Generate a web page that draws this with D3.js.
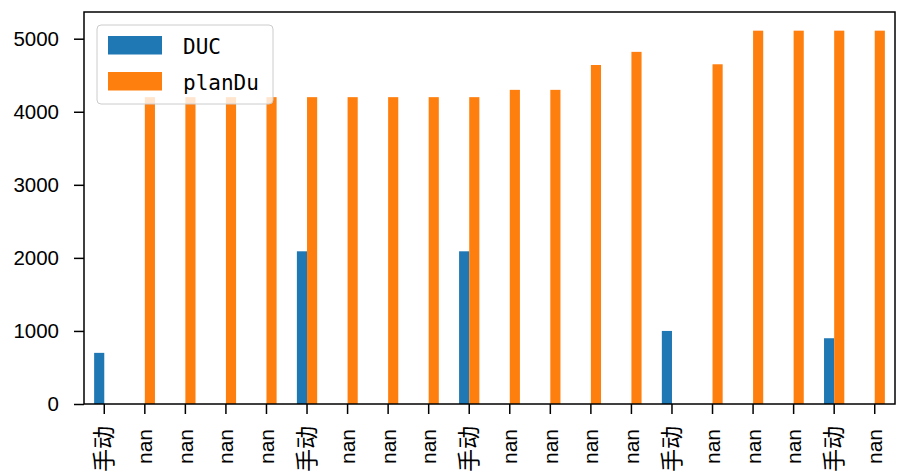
<!DOCTYPE html>
<html>
<head>
<meta charset="utf-8">
<script src="https://cdn.jsdelivr.net/npm/d3@7"></script>
<style>
  body { margin: 0; background: #fff; }
  svg { display: block; }
</style>
</head>
<body>
<div id="vis"></div>
<script>
// categories and values (null = NaN, no bar)
let categories = ['手动','nan','nan','nan','nan','手动','nan','nan','nan','手动',
                  'nan','nan','nan','nan','手动','nan','nan','nan','手动','nan'];
let ducValues = [700, null, null, null, null, 2090, null, null, null, 2090,
                 null, null, null, null, 1000, null, null, null, 900, null];
let planDuValues = [null, 4200, 4200, 4200, 4200, 4200, 4200, 4200, 4200, 4200,
                    4300, 4300, 4640, 4820, null, 4650, 5110, 5110, 5110, 5110];
let yTicks = [0, 1000, 2000, 3000, 4000, 5000];
let seriesNames = ['DUC', 'planDu'];
let colors = ['#1f77b4', '#ff7f0e'];

let W = 897, H = 473;
let margin = { top: 12, left: 84, right: 2, bottom: 69 };
let x0 = margin.left, x1 = W - margin.right;
let y0 = H - margin.bottom, y1 = margin.top;

let svg = d3.select('#vis')
  .append('svg')
    .attr('width', W)
    .attr('height', H);

let x = d3.scaleBand()
  .domain(d3.range(categories.length))
  .range([x0, x1])
  .padding(0);
let bw = x.bandwidth();
let barW = bw * 0.25;

let y = d3.scaleLinear()
  .domain([0, 5110 * 1.05])
  .range([y0, y1]);

// bars
let series = [ducValues, planDuValues];
series.forEach(function(vals, s) {
  svg.append('g')
    .selectAll('rect')
    .data(vals.map(function(v, i) { return { i: i, v: v }; }).filter(function(d) { return d.v != null; }))
    .join('rect')
      .attr('x', function(d) { return x(d.i) + bw / 2 - barW + s * barW; })
      .attr('y', function(d) { return y(d.v); })
      .attr('width', barW)
      .attr('height', function(d) { return y0 - y(d.v); })
      .attr('fill', colors[s]);
});

// y axis
let yAxis = svg.append('g')
  .attr('transform', 'translate(' + x0 + ',0)')
  .call(d3.axisLeft(y).tickValues(yTicks).tickSize(10).tickPadding(15).tickFormat(d3.format('d')));
yAxis.select('.domain').remove();
yAxis.selectAll('line').attr('stroke', '#000').attr('stroke-width', 1.5);
yAxis.selectAll('text')
  .attr('font-family', '"Liberation Sans", Arial, sans-serif')
  .attr('font-size', 20.5)
  .attr('fill', '#000');

// x axis
let xAxis = svg.append('g')
  .attr('transform', 'translate(0,' + y0 + ')')
  .call(d3.axisBottom(x).tickSize(10).tickFormat(function(i) { return categories[i]; }));
xAxis.select('.domain').remove();
xAxis.selectAll('line').attr('stroke', '#000').attr('stroke-width', 1.5);
xAxis.selectAll('text')
  .attr('font-family', '"Liberation Sans", "Noto Sans CJK SC", sans-serif')
  .attr('font-size', function(i) { return categories[i] === 'nan' ? 21 : 23; })
  .attr('fill', '#000')
  .attr('text-anchor', 'end')
  .attr('dy', null)
  .attr('dominant-baseline', 'central')
  .attr('transform', function(i) { return 'translate(0,' + (categories[i] === 'nan' ? 25 : 22) + ') rotate(-90)'; })
  .attr('y', 0)
  .attr('x', 0);

// frame
svg.append('rect')
  .attr('x', x0).attr('y', y1)
  .attr('width', x1 - x0).attr('height', y0 - y1)
  .attr('fill', 'none')
  .attr('stroke', '#000')
  .attr('stroke-width', 1.5);

// legend
let legend = svg.append('g');
legend.append('rect')
  .attr('x', 97).attr('y', 25)
  .attr('width', 176).attr('height', 79)
  .attr('rx', 4)
  .attr('fill', '#fff').attr('fill-opacity', 0.8)
  .attr('stroke', '#ccc').attr('stroke-width', 1);
seriesNames.forEach(function(name, s) {
  legend.append('rect')
    .attr('x', 108).attr('y', 36 + s * 36)
    .attr('width', 54).attr('height', 18.5)
    .attr('fill', colors[s]);
  legend.append('text')
    .attr('x', 183).attr('y', 54 + s * 36)
    .attr('font-family', '"DejaVu Sans Mono", monospace')
    .attr('font-size', 21)
    .attr('fill', '#000')
    .text(name);
});
</script>
</body>
</html>
